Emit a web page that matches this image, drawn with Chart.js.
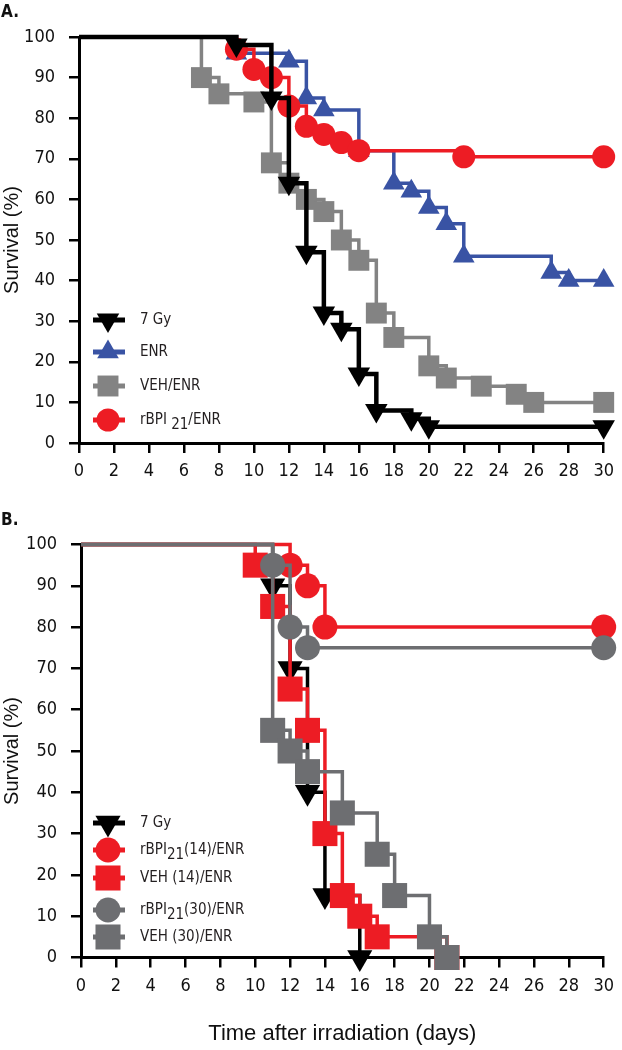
<!DOCTYPE html>
<html><head><meta charset="utf-8">
<script src="https://cdn.jsdelivr.net/npm/chart.js@4.4.0/dist/chart.umd.min.js"></script>
<style>
html,body{margin:0;padding:0;background:#fff;width:622px;height:1050px;overflow:hidden}
#cA{position:absolute;left:0;top:0}
#cB{position:absolute;left:0;top:505px}
</style></head><body>
<canvas id="cA" width="622" height="505"></canvas>
<canvas id="cB" width="622" height="545"></canvas>
<script>
// ---- tick labels ----
const xTickValues = [0,2,4,6,8,10,12,14,16,18,20,22,24,26,28,30];
const yTickValues = [0,10,20,30,40,50,60,70,80,90,100];

// ---- Panel A data (day, survival %) ----
const daysA_7Gy  = [0,9,11,12,13,14,15,16,17,19,20,30];
const survA_7Gy  = [100,98,85,64,47,32,28,17,8,6,4,4];
const daysA_ENR  = [0,9,12,13,14,16,18,19,20,21,22,27,28,30];
const survA_ENR  = [100,96,94,85,82,72,64,62,58,54,46,42,40,40];
const daysA_VEH  = [0,7,8,10,11,12,13,14,15,16,17,18,20,21,23,25,26,30];
const survA_VEH  = [100,90,86,84,69,64,60,57,50,45,32,26,19,16,14,12,10,10];
const daysA_rBPI = [0,9,10,11,12,13,14,15,16,22,30];
const survA_rBPI = [100,97,92,90,83,78,76,74,72,70.5,70.5];

// ---- Panel B data ----
const daysB_7Gy    = [0,11,12,13,14,16];
const survB_7Gy    = [100,90,70,40,15,0];
const daysB_rBPI14 = [0,12,13,14,30];
const survB_rBPI14 = [100,95,90,80,80];
const daysB_VEH14  = [0,10,11,12,13,14,15,16,17,21];
const survB_VEH14  = [100,95,85,65,55,30,15,10,5,0];
const daysB_rBPI30 = [0,11,12,13,30];
const survB_rBPI30 = [100,95,80,75,75];
const daysB_VEH30  = [0,11,12,13,15,17,18,20,21];
const survB_VEH30  = [100,55,50,45,35,25,15,5,0];

const labelsA = ['7 Gy','ENR','VEH/ENR','rBPI21/ENR'];
const labelsB = ['7 Gy','rBPI21(14)/ENR','VEH (14)/ENR','rBPI21(30)/ENR','VEH (30)/ENR'];

const BLACK='#000000', BLUE='#3953a4', RED='#ed1c24', GRAY_A='#838383', GRAY_B='#6d6e71';
const NARROW = '"DejaVu Sans Condensed","Liberation Sans Narrow",sans-serif';
const SANS = '"Liberation Sans",Arial,sans-serif';

function ds(label, days, surv, color, style, radius, rot, lw, order){
  return {
    label, data: days.map((d,i)=>({x:d,y:surv[i]})),
    borderColor:color, backgroundColor:color, pointBackgroundColor:color, pointBorderColor:color,
    borderWidth:lw, stepped:'before', pointStyle:style, pointRotation:rot,
    pointRadius: c => c.dataIndex===0 ? 0 : radius, pointHoverRadius: c => c.dataIndex===0 ? 0 : radius,
    pointBorderWidth:0, clip:false, order, fill:false, tension:0,
    _legend:{color, style, radius, rot}
  };
}

function makeGrid(){
  return {display:true, drawOnChartArea:false, drawTicks:true, tickLength:10,
          lineWidth:2.5, color:'#000', tickWidth:2.5, tickColor:'#000'};
}

function scales(yWidth, xHeight, xTitle){
  return {
    x:{type:'linear', min:xTickValues[0], max:xTickValues[xTickValues.length-1],
      grid:makeGrid(), border:{display:true, width:3, color:'#000'},
      afterBuildTicks: s => { s.ticks = xTickValues.map(v=>({value:v})); },
      afterFit: s => { s.height = xHeight; },
      ticks:{color:'#111', font:{family:NARROW, size:18}, padding:8, maxRotation:0, autoSkip:false},
      title: xTitle ? {display:true, text:xTitle, color:'#111', font:{family:SANS, size:22}, padding:{top:0,bottom:3}} : {display:false}
    },
    y:{type:'linear', min:yTickValues[0], max:yTickValues[yTickValues.length-1],
      grid:makeGrid(), border:{display:true, width:3, color:'#000'},
      afterBuildTicks: s => { s.ticks = yTickValues.map(v=>({value:v})); },
      afterFit: s => { s.width = yWidth; },
      ticks:{color:'#111', font:{family:NARROW, size:18}, padding:14, autoSkip:false},
      title:{display:true, text:'Survival (%)', color:'#111', font:{family:SANS, size:20}, padding:{top:0,bottom:0}}
    }
  };
}

function drawMarker(ctx, m, x, y){
  ctx.save();
  ctx.fillStyle = m.color; ctx.strokeStyle = m.color;
  Chart.helpers.drawPoint(ctx, {pointStyle:m.style, radius:m.radius, rotation:m.rot, borderWidth:0}, x, y);
  ctx.restore();
}

function legendPlugin(id, letter, letterY, rows, labels, subGap){
  return {
    id,
    afterDraw(chart){
      const ctx = chart.ctx;
      ctx.save();
      ctx.fillStyle = '#111';
      ctx.font = 'bold 17px ' + NARROW;
      ctx.textBaseline = 'alphabetic';
      ctx.fillText(letter, 1, letterY);
      const sets = chart.data.datasets.slice().sort((a,b)=>a._legendIndex-b._legendIndex);
      sets.forEach((d,i)=>{
        const y = rows[i];
        const m = d._legend;
        ctx.strokeStyle = m.color; ctx.lineWidth = 5;
        ctx.beginPath(); ctx.moveTo(93,y); ctx.lineTo(125,y); ctx.stroke();
        drawMarker(ctx, m, 108, y);
        ctx.fillStyle = '#231f20';
        ctx.font = '15px ' + NARROW;
        ctx.textBaseline = 'middle';
        const txt = labels[i];
        let x = 140;
        const k = txt.indexOf('rBPI21');
        if (k >= 0){
          const pre = 'rBPI' + subGap;
          ctx.fillText(pre, x, y); x += ctx.measureText(pre).width;
          ctx.fillText('21', x, y+5); x += ctx.measureText('21').width;
          ctx.fillText(txt.slice(k+6), x, y);
        } else {
          ctx.fillText(txt, x, y);
        }
      });
      ctx.restore();
    }
  };
}

// ---- Chart A ----
const setsA = [
  ds(labelsA[0], daysA_7Gy, survA_7Gy, BLACK, 'triangle', 13, 180, 4.5, 0),
  ds(labelsA[1], daysA_ENR, survA_ENR, BLUE, 'triangle', 12.5, 0, 3.5, 2),
  ds(labelsA[2], daysA_VEH, survA_VEH, GRAY_A, 'rect', 14.8, 0, 3.5, 3),
  ds(labelsA[3], daysA_rBPI, survA_rBPI, RED, 'circle', 11.5, 0, 3.5, 1)
];
setsA.forEach((d,i)=>d._legendIndex=i);
new Chart(document.getElementById('cA'), {
  type:'line',
  data:{datasets:setsA},
  options:{
    responsive:false, animation:false, events:[],
    layout:{padding:{top:37, right:13, left:0, bottom:0}},
    plugins:{legend:{display:false}, tooltip:{enabled:false}},
    scales: scales(79, 62, null)
  },
  plugins:[legendPlugin('legA','A.',17,[320,352,386,420],labelsA,' ')]
});

// ---- Chart B ----
const setsB = [
  ds(labelsB[0], daysB_7Gy, survB_7Gy, BLACK, 'triangle', 14.5, 180, 3.5, 4),
  ds(labelsB[1], daysB_rBPI14, survB_rBPI14, RED, 'circle', 12.5, 0, 3.5, 2),
  ds(labelsB[2], daysB_VEH14, survB_VEH14, RED, 'rect', 17.7, 0, 3.5, 3),
  ds(labelsB[3], daysB_rBPI30, survB_rBPI30, GRAY_B, 'circle', 12.5, 0, 3.5, 0),
  ds(labelsB[4], daysB_VEH30, survB_VEH30, GRAY_B, 'rect', 17.7, 0, 3.5, 1)
];
setsB.forEach((d,i)=>d._legendIndex=i);
new Chart(document.getElementById('cB'), {
  type:'line',
  data:{datasets:setsB},
  options:{
    responsive:false, animation:false, events:[],
    layout:{padding:{top:39.5, right:12, left:0, bottom:0}},
    plugins:{legend:{display:false}, tooltip:{enabled:false}},
    scales: scales(81, 92.5, 'Time after irradiation (days)')
  },
  plugins:[legendPlugin('legB','B.',20,[318,345,373,405,432],labelsB,'')]
});
</script>
</body></html>
